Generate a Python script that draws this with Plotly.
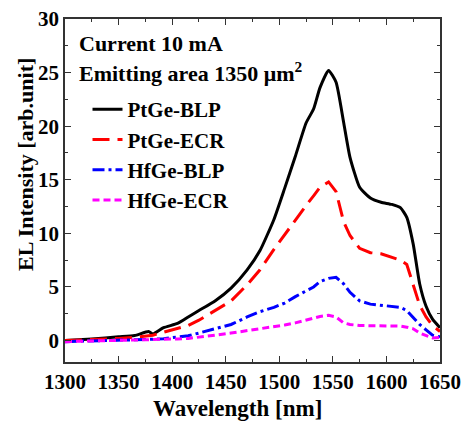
import plotly.graph_objects as go

wavelength = [1300, 1325, 1350, 1365, 1378, 1382, 1392, 1405, 1415, 1425, 1440, 1455, 1470, 1482,
              1495, 1505, 1515, 1525, 1532, 1538, 1546, 1553, 1560, 1566, 1575, 1585, 1595, 1605,
              1613, 1619, 1625, 1631, 1637, 1643, 1650]

ptge_blp = [0.0, 0.15, 0.35, 0.47, 0.84, 0.62, 1.2, 1.6, 2.2, 2.8, 3.7, 4.9, 6.6, 8.4,
            11.3, 14.2, 17.2, 20.3, 21.6, 23.6, 25.2, 24.1, 20.4, 17.1, 14.3, 13.3, 12.9, 12.7,
            12.4, 11.5, 9.0, 5.3, 3.2, 2.0, 1.2]

ptge_ecr = [0.0, 0.08, 0.2, 0.3, 0.45, 0.5, 0.78, 1.1, 1.4, 1.9, 2.8, 3.7, 5.2, 6.6,
            8.5, 9.9, 11.3, 12.6, 13.5, 14.3, 14.8, 13.9, 11.1, 9.8, 8.6, 8.2, 8.1, 7.8,
            7.5, 7.1, 5.2, 3.3, 2.2, 1.4, 0.85]

hfge_blp = [-0.1, -0.05, 0.0, 0.05, 0.1, 0.12, 0.17, 0.3, 0.45, 0.7, 1.1, 1.5, 2.2, 2.7,
            3.1, 3.5, 4.1, 4.6, 5.0, 5.5, 5.8, 5.9, 5.3, 4.5, 3.7, 3.4, 3.3, 3.2,
            3.1, 2.8, 2.2, 1.5, 1.0, 0.5, 0.35]

hfge_ecr = [-0.1, -0.05, 0.0, 0.02, 0.05, 0.06, 0.1, 0.15, 0.2, 0.3, 0.5, 0.7, 0.93, 1.05,
            1.3, 1.45, 1.65, 1.9, 2.1, 2.25, 2.35, 2.2, 1.65, 1.5, 1.4, 1.4, 1.4, 1.4,
            1.35, 1.25, 1.1, 0.7, 0.45, 0.25, 0.3]

series_names = ["PtGe-BLP", "PtGe-ECR", "HfGe-BLP", "HfGe-ECR"]
x_ticks = [1300, 1350, 1400, 1450, 1500, 1550, 1600, 1650]
y_ticks = [0, 5, 10, 15, 20, 25, 30]
x_title = "Wavelength [nm]"
y_title = "EL Intensity [arb.unit]"

FONT = "Liberation Serif"
W, H = 465, 421
L, R, T, B = 65, 25, 19, 59
PW, PH = W - L - R, H - T - B

fig = go.Figure()
styles = [
    dict(color="black", width=3, dash="solid", shape="spline", smoothing=0.5),
    dict(color="#ff0000", width=3, dash="17px,8px"),
    dict(color="#0000ff", width=3, dash="12px,4px,3px,4px"),
    dict(color="#ff00ff", width=3, dash="7px,4px"),
]
for name, ys, st in zip(series_names, [ptge_blp, ptge_ecr, hfge_blp, hfge_ecr], styles):
    fig.add_trace(go.Scatter(x=wavelength, y=ys, mode="lines", name=name,
                             legendgroup=name, line=st))

axis_common = dict(
    showline=True, linecolor="#333", linewidth=1.5, mirror="allticks",
    ticks="inside", ticklen=6, tickwidth=1.2, tickcolor="#333",
    showgrid=False, zeroline=False, automargin=False,
    tickfont=dict(family=FONT, size=21, color="black", weight="bold"),
)

fig.update_xaxes(range=[1300, 1650], tickvals=x_ticks,
                 minor=dict(ticks="inside", ticklen=3, tickcolor="#333", dtick=25, tick0=1300),
                 **axis_common)
fig.update_yaxes(range=[-2, 30], tickvals=y_ticks,
                 minor=dict(ticks="inside", ticklen=3, tickcolor="#333", dtick=2.5, tick0=0),
                 **axis_common)

title_font = dict(family=FONT, size=23, color="black", weight="bold")
# axis titles (placed as paper annotations to match the reference's offsets)
fig.add_annotation(text=x_title, xref="paper", yref="paper",
                   x=(237 - L) / PW, y=-(408 - T - PH) / PH,
                   xanchor="center", yanchor="middle", showarrow=False, font=title_font)
fig.add_annotation(text=y_title, xref="paper", yref="paper", textangle=-90,
                   x=(26 - L) / PW, y=1 - (165 - T) / PH,
                   xanchor="center", yanchor="middle", showarrow=False,
                   font=dict(family=FONT, size=22, color="black", weight="bold"))

fig.add_annotation(text="Current 10 mA", xref="paper", yref="paper", x=(77 - L) / PW, y=1 - (43 - T) / PH,
                   xanchor="left", yanchor="middle", showarrow=False,
                   font=dict(family=FONT, size=22, color="black", weight="bold"))
fig.add_annotation(text="Emitting area 1350 μm<sup>2</sup>", xref="paper", yref="paper",
                   x=(77 - L) / PW, y=1 - (72 - T) / PH,
                   xanchor="left", yanchor="middle", showarrow=False,
                   font=dict(family=FONT, size=22, color="black", weight="bold"))

fig.update_layout(
    width=W, height=H,
    margin=dict(l=L, r=R, t=T, b=B),
    paper_bgcolor="white", plot_bgcolor="white",
    legend=dict(x=0.06, y=1 - (89 - T) / PH, xanchor="left", yanchor="top", bgcolor="rgba(0,0,0,0)",
                font=dict(family=FONT, size=21, color="black", weight="bold"),
                tracegroupgap=0, itemwidth=30),
    showlegend=True,
)

fig.write_html("out.html", config={"displayModeBar": False},
               post_script="document.body.style.margin='0';document.body.style.overflow='hidden';")
